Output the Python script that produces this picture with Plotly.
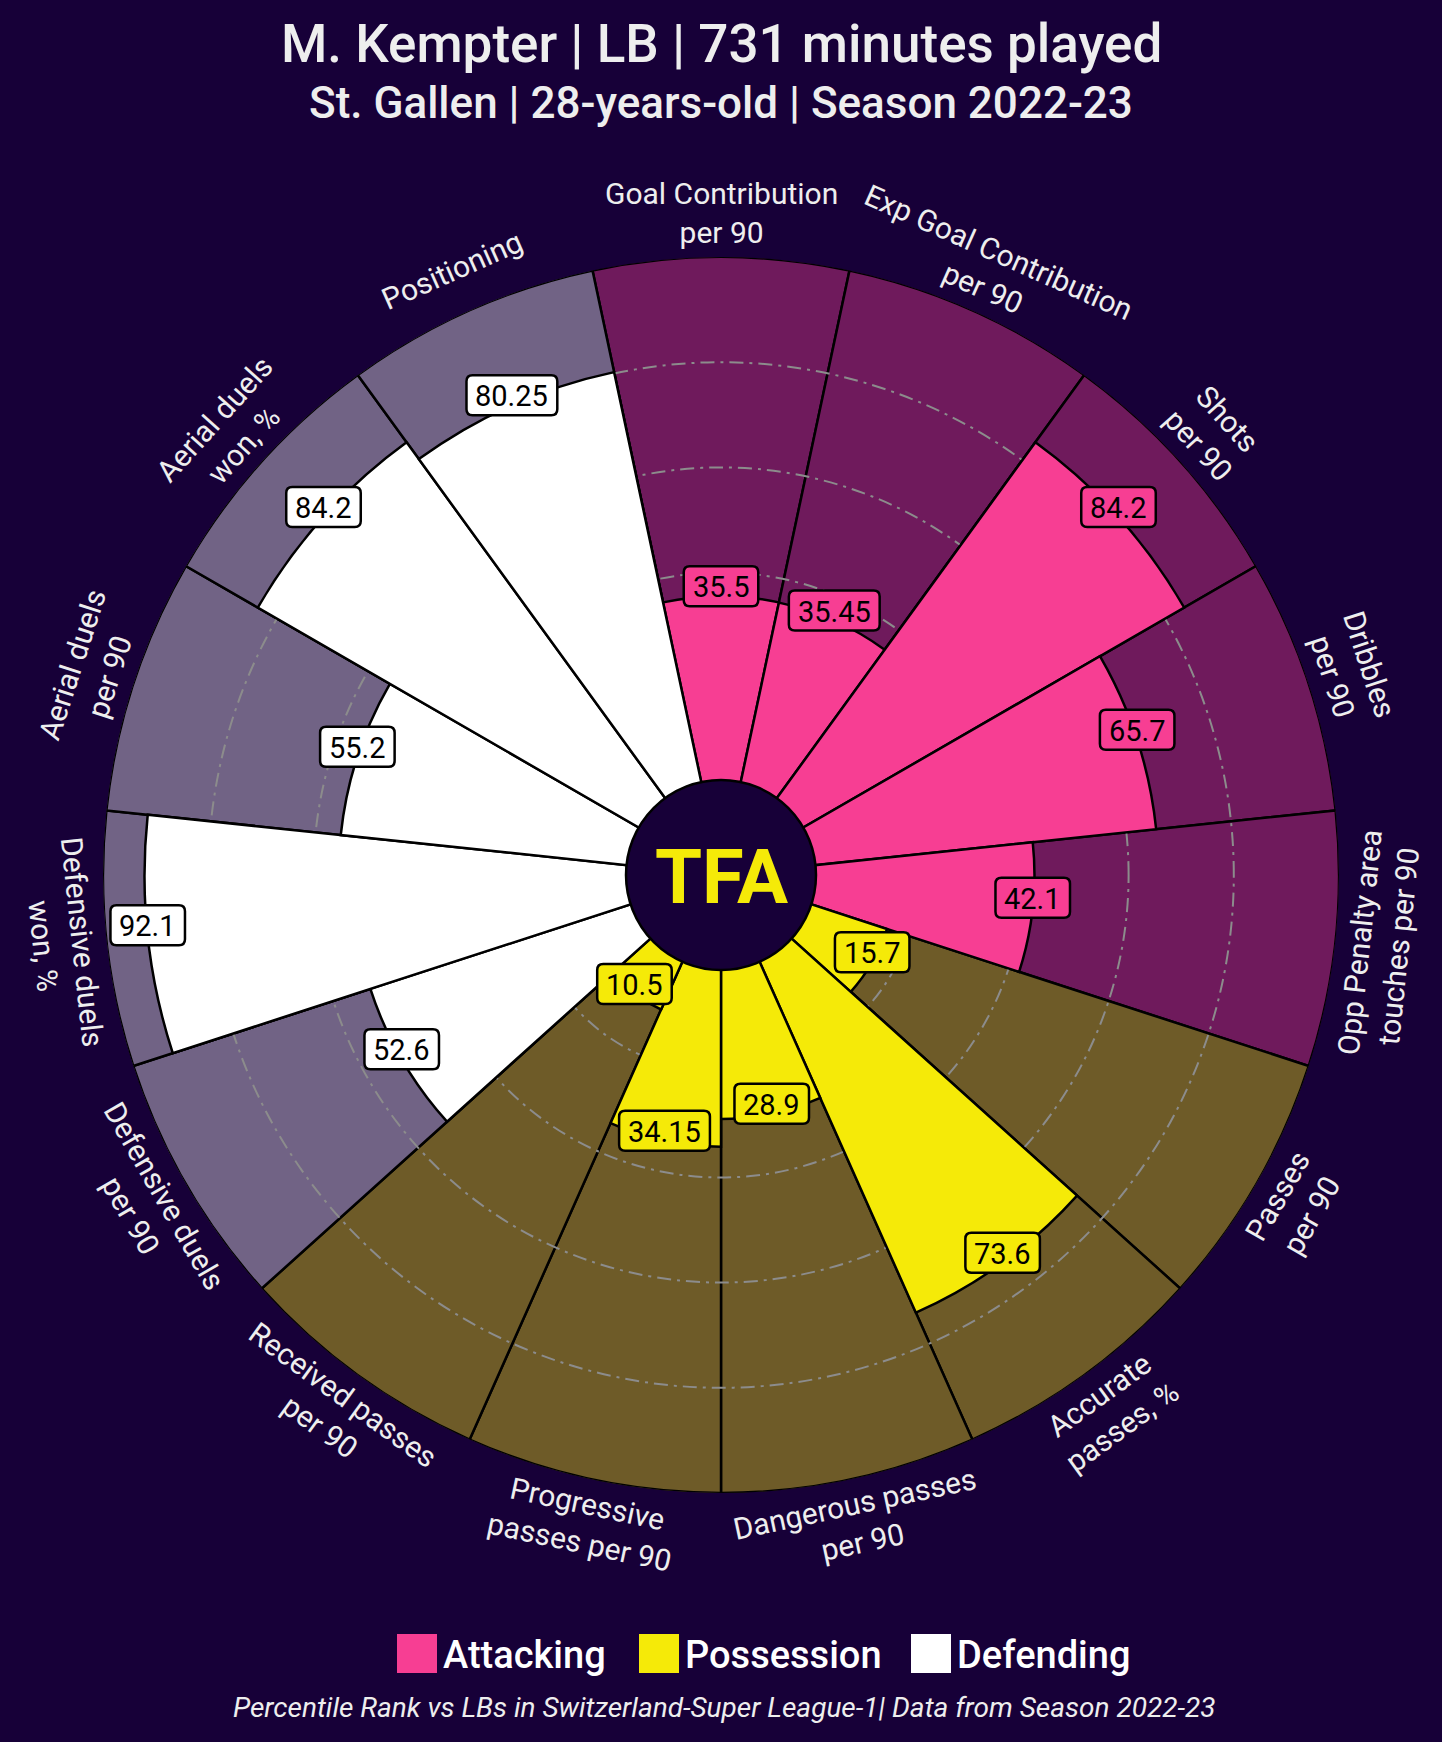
import math
import plotly.graph_objects as go

# ---------------- data ----------------
params = [
    "Goal Contribution<br>per 90",
    "Exp Goal Contribution<br>per 90",
    "Shots<br>per 90",
    "Dribbles<br>per 90",
    "Opp Penalty area<br>touches per 90",
    "Passes<br>per 90",
    "Accurate<br>passes, %",
    "Dangerous passes<br>per 90",
    "Progressive<br>passes per 90",
    "Received passes<br>per 90",
    "Defensive duels<br>per 90",
    "Defensive duels<br>won, %",
    "Aerial duels<br>per 90",
    "Aerial duels<br>won, %",
    "Positioning",
]
values = [35.5, 35.45, 84.2, 65.7, 42.1, 15.7, 73.6, 28.9, 34.15, 10.5,
          52.6, 92.1, 55.2, 84.2, 80.25]
value_labels = ["35.5", "35.45", "84.2", "65.7", "42.1", "15.7", "73.6", "28.9",
                "34.15", "10.5", "52.6", "92.1", "55.2", "84.2", "80.25"]
groups = ["Attacking"] * 5 + ["Possession"] * 5 + ["Defending"] * 5
legend_groups = ["Attacking", "Possession", "Defending"]

title_text = "M. Kempter | LB | 731 minutes played"
subtitle_text = "St. Gallen | 28-years-old | Season 2022-23"
footer_text = "Percentile Rank vs LBs in Switzerland-Super League-1| Data from Season 2022-23"

# ---------------- style ----------------
BG = "#170038"
FG = {"Attacking": "#f73e93", "Possession": "#f5ea08", "Defending": "#ffffff"}
SLICE_BG = {"Attacking": "#6f1a5c", "Possession": "#6e5b28", "Defending": "#716385"}
TEXT = "#eeeeee"
FONT = "Roboto"

W, H = 1442, 1742
CX, CY, R = 721, 875, 618
HOLE_PX = 92
N = len(params)
STEP = 360 / N
theta = [i * STEP for i in range(N)]
VAL_FONT = 29


def px_to_paper(px, py):
    return px / W, 1 - py / H


def polar_to_px(t, r):
    a = math.radians(t)
    return CX + r * math.sin(a), CY - r * math.cos(a)


def text_width(s, size):
    w = 0.0
    for ch in s:
        w += 0.263 if ch == "." else 0.562
    return w * size


def rounded_rect_path(cx, cy, w, h, rad):
    x0, x1 = cx - w / 2, cx + w / 2
    y0, y1 = cy - h / 2, cy + h / 2
    pts = [("M", [(x0 + rad, y0)]), ("L", [(x1 - rad, y0)]), ("Q", [(x1, y0), (x1, y0 + rad)]),
           ("L", [(x1, y1 - rad)]), ("Q", [(x1, y1), (x1 - rad, y1)]), ("L", [(x0 + rad, y1)]),
           ("Q", [(x0, y1), (x0, y1 - rad)]), ("L", [(x0, y0 + rad)]), ("Q", [(x0, y0), (x0 + rad, y0)])]
    out = []
    for cmd, plist in pts:
        coords = []
        for (px, py) in plist:
            x, y = px_to_paper(px, py)
            coords.append(f"{x:.6f},{y:.6f}")
        out.append(cmd + " " + " ".join(coords))
    return " ".join(out) + " Z"


dom = dict(x=[(CX - R) / W, (CX + R) / W], y=[1 - (CY + R) / H, 1 - (CY - R) / H])
ang = dict(rotation=90, direction="clockwise", showgrid=False, showline=False,
           showticklabels=False, ticks="", thetaunit="degrees")

fig = go.Figure()
fig.add_trace(go.Barpolar(
    r=[100] * N, theta=theta, width=[STEP] * N,
    marker=dict(color=[SLICE_BG[g] for g in groups], line=dict(color="black", width=2.5)),
    subplot="polar", hoverinfo="skip", showlegend=False,
))
fig.add_trace(go.Barpolar(
    r=values, theta=theta, width=[STEP] * N,
    marker=dict(color=[FG[g] for g in groups], line=dict(color="black", width=2.5)),
    subplot="polar2", hoverinfo="skip", showlegend=False,
))

fig.update_layout(
    width=W, height=H, paper_bgcolor=BG, plot_bgcolor=BG,
    margin=dict(l=0, r=0, t=0, b=0), showlegend=False,
    polar=dict(domain=dom, bgcolor="rgba(0,0,0,0)", hole=HOLE_PX / R, angularaxis=ang,
               radialaxis=dict(range=[0, 100], showline=False, showticklabels=False,
                               ticks="", showgrid=False)),
    polar2=dict(domain=dom, bgcolor="rgba(0,0,0,0)", hole=HOLE_PX / R, angularaxis=ang,
                radialaxis=dict(range=[0, 100], showline=False, showticklabels=False,
                                ticks="", showgrid=True, tickvals=[20, 40, 60, 80],
                                gridcolor="#8c8c8c", gridwidth=2.2,
                                griddash="14px,6px,3px,6px")),
)

shapes = []
annotations = []

# centre logo circle
LOGO_R = 95
x0, y1 = px_to_paper(CX - LOGO_R, CY - LOGO_R)
x1, y0 = px_to_paper(CX + LOGO_R, CY + LOGO_R)
shapes.append(dict(type="circle", xref="paper", yref="paper", x0=x0, x1=x1, y0=y0, y1=y1,
                   fillcolor=BG, line=dict(color="black", width=2.5), layer="above"))
annotations.append(dict(x=CX / W, y=1 - (CY + 2) / H, xref="paper", yref="paper",
                        text="<b>TFA</b>", showarrow=False, xanchor="center", yanchor="middle",
                        font=dict(family="Roboto", size=76, color=FG["Possession"], weight=900)))

# value boxes (rounded)
for t, v, lab, g in zip(theta, values, value_labels, groups):
    r = HOLE_PX + (R - HOLE_PX) * v / 100
    px, py = polar_to_px(t, r)
    py -= 10
    bw = text_width(lab, VAL_FONT) + 18
    shapes.append(dict(type="path", xref="paper", yref="paper",
                       path=rounded_rect_path(px, py, bw, 40, 6),
                       fillcolor=FG[g], line=dict(color="black", width=2.5), layer="above"))
    x, y = px_to_paper(px, py + 1)
    annotations.append(dict(x=x, y=y, xref="paper", yref="paper", text=lab, showarrow=False,
                            xanchor="center", yanchor="middle",
                            font=dict(family=FONT, size=VAL_FONT, color="black")))

# parameter labels
LABEL_R = 662
for t, p in zip(theta, params):
    px, py = polar_to_px(t, LABEL_R)
    x, y = px_to_paper(px, py)
    if 90 < t < 270:
        rot = t - 180
    elif t >= 270:
        rot = t - 360
    else:
        rot = t
    annotations.append(dict(x=x, y=y, xref="paper", yref="paper", text=p, showarrow=False,
                            xanchor="center", yanchor="middle", textangle=rot,
                            font=dict(family=FONT, size=30, color=TEXT)))

# titles
annotations.append(dict(x=0.5, y=1 - 44 / H, xref="paper", yref="paper", text=title_text,
                        showarrow=False, xanchor="center", yanchor="middle",
                        font=dict(family=FONT, size=53, color=TEXT, weight=500)))
annotations.append(dict(x=0.5, y=1 - 103 / H, xref="paper", yref="paper", text=subtitle_text,
                        showarrow=False, xanchor="center", yanchor="middle",
                        font=dict(family=FONT, size=44, color=TEXT, weight=500)))

# legend
leg_x = [397, 639, 911]
for lx, g in zip(leg_x, legend_groups):
    shapes.append(dict(type="rect", xref="paper", yref="paper",
                       x0=lx / W, x1=(lx + 40) / W, y0=1 - 1673 / H, y1=1 - 1634 / H,
                       fillcolor=FG[g], line=dict(width=0), layer="above"))
    annotations.append(dict(x=(lx + 44) / W, y=1 - 1655 / H, xref="paper", yref="paper",
                            text=g, showarrow=False, xanchor="left", yanchor="middle",
                            font=dict(family=FONT, size=38, color="#ffffff", weight=500)))

annotations.append(dict(x=0.502, y=1 - 1707 / H, xref="paper", yref="paper", text=f"<i>{footer_text}</i>",
                        showarrow=False, xanchor="center", yanchor="middle",
                        font=dict(family=FONT, size=28, color=TEXT)))

fig.update_layout(shapes=shapes, annotations=annotations)
fig.write_html("out.html", config={"displayModeBar": False},
               post_script="document.body.style.margin='0px';")
